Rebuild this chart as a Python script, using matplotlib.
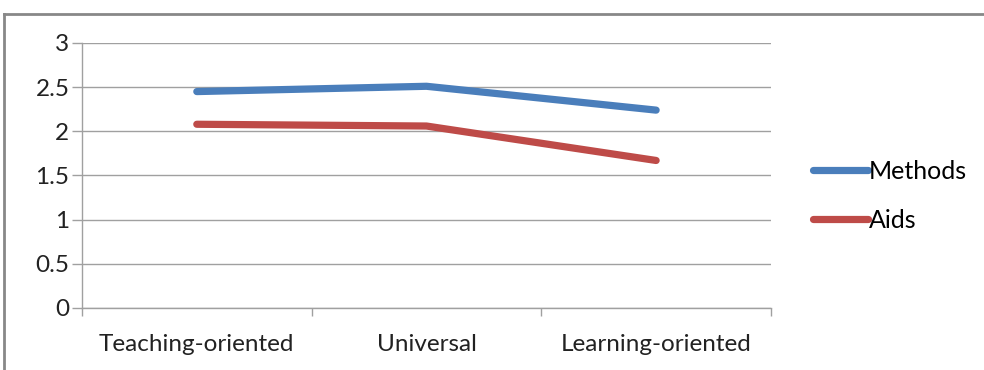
import matplotlib.pyplot as plt
from matplotlib.lines import Line2D

categories = ['Teaching-oriented', 'Universal', 'Learning-oriented']
methods = [2.45, 2.51, 2.24]
aids = [2.08, 2.06, 1.67]
yticks = [0, 0.5, 1, 1.5, 2, 2.5, 3]

blue = '#4a7ebb'
red = '#be4b48'
grid = '#a0a0a0'

plt.rcParams['font.family'] = ['Lato', 'DejaVu Sans']

fig = plt.figure(figsize=(9.84, 3.70), dpi=100)
ax = fig.add_axes([0.0833, 0.1676, 0.7002, 0.7162])

x = range(len(categories))
ax.plot(x, methods, color=blue, lw=5.2, solid_capstyle='round', solid_joinstyle='round', label='Methods')
ax.plot(x, aids, color=red, lw=5.2, solid_capstyle='round', solid_joinstyle='round', label='Aids')

ax.set_xlim(-0.5, 2.5)
ax.set_ylim(0, 3)
ax.set_yticks(yticks)
ax.set_yticklabels(['0', '0.5', '1', '1.5', '2', '2.5', '3'])
ax.set_xticks(list(x))
ax.set_xticklabels(categories)
ax.set_xticks([-0.5, 0.5, 1.5, 2.5], minor=True)
ax.tick_params(axis='x', which='major', length=0, pad=19, labelsize=17.5, colors='#222222')
ax.tick_params(axis='x', which='minor', length=6, color=grid, width=1)
ax.tick_params(axis='y', length=7, color=grid, width=1, labelsize=17.5, colors='#222222', pad=2)
ax.yaxis.grid(True, color=grid, lw=1)
ax.set_axisbelow(True)
for side in ['top', 'right']:
    ax.spines[side].set_visible(False)
for side in ['left', 'bottom']:
    ax.spines[side].set_color(grid)
    ax.spines[side].set_linewidth(1)

fig.legend(loc='center left', bbox_to_anchor=(0.803, 0.47), frameon=False,
           fontsize=18, handlelength=2.2, handletextpad=0.05, labelspacing=1.05)

# outer chart frame, cut off at the right and bottom edges
fig.add_artist(Line2D([4 / 984, 1], [1 - 14 / 370] * 2, transform=fig.transFigure, color='#888888', lw=2))
fig.add_artist(Line2D([4 / 984] * 2, [0, 1 - 14 / 370], transform=fig.transFigure, color='#888888', lw=2))

fig.savefig('out.png', dpi=100)
